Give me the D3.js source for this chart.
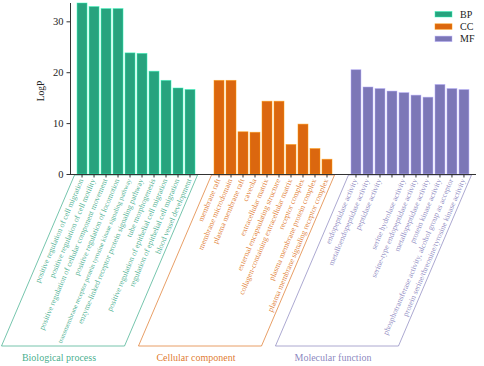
<!DOCTYPE html>
<html>
<head>
<meta charset="utf-8">
<script src="https://cdn.jsdelivr.net/npm/d3@7"></script>
<style>
  html, body { margin: 0; padding: 0; background: #fff; }
  svg { display: block; }
  svg text { font-family: "Liberation Serif", "Times New Roman", serif; }
</style>
</head>
<body>
<svg id="chart" width="484" height="366"></svg>
<script>
// ---- data ----
const groups = ["BP", "CC", "MF"];
const groupTitles = ["Biological process", "Cellular component", "Molecular function"];
const groupColors = ["#1b9e77", "#d95f02", "#7570b3"];

const bpTerms = [
  "positive regulation of cell migration",
  "positive regulation of cell motility",
  "positive regulation of cellular component movement",
  "positive regulation of locomotion",
  "transmembrane receptor protein tyrosine kinase signaling pathway",
  "enzyme-linked receptor protein signaling pathway",
  "tube morphogenesis",
  "positive regulation of epithelial cell migration",
  "regulation of epithelial cell migration",
  "blood vessel development"
];
const bpValues = [33.6, 32.9, 32.5, 32.5, 23.8, 23.7, 20.2, 18.4, 16.9, 16.6];

const ccTerms = [
  "membrane raft",
  "membrane microdomain",
  "plasma membrane raft",
  "caveola",
  "extracellular matrix",
  "external encapsulating structure",
  "collagen-containing extracellular matrix",
  "receptor complex",
  "plasma membrane protein complex",
  "plasma membrane signaling receptor complex"
];
const ccValues = [18.4, 18.4, 8.3, 8.2, 14.3, 14.3, 5.8, 9.8, 5.0, 2.9];

const mfTerms = [
  "endopeptidase activity",
  "metalloendopeptidase activity",
  "peptidase activity",
  "",
  "serine hydrolase activity",
  "serine-type endopeptidase activity",
  "metallopeptidase activity",
  "protein kinase activity",
  "phosphotransferase activity, alcohol group as acceptor",
  "protein serine/threonine/tyrosine kinase activity"
];
const mfValues = [20.5, 17.1, 16.8, 16.3, 16.0, 15.5, 15.1, 17.6, 16.8, 16.6];

const yTicks = [0, 10, 20, 30];
const yMax = 33.6;

// ---- build ----
const FONT = "'Liberation Serif', 'Times New Roman', serif";
const termsByGroup = [bpTerms, ccTerms, mfTerms];
const valuesByGroup = [bpValues, ccValues, mfValues];

const svg = d3.select("#chart");
const axisX0 = 70, axisX1 = 476, axisY0 = 174, axisTop = 3;
const boxBottom = 346;
const slantDx = (boxBottom - axisY0) / Math.tan(67 * Math.PI / 180);

const y = d3.scaleLinear().domain([0, yMax]).range([axisY0, axisTop]);
const xGroup = d3.scaleBand().domain(groups).range([axisX0, axisX1])
  .paddingInner(0.102).paddingOuter(0.033);
const xInner = d3.scaleBand().domain(d3.range(10)).range([0, xGroup.bandwidth()])
  .paddingInner(0.167).paddingOuter(0.21);

// parallelograms (behind axis)
groups.forEach((g, gi) => {
  const x0 = xGroup(g), x1 = x0 + xGroup.bandwidth();
  const col = groupColors[gi];
  svg.append("path")
    .attr("d", `M${x0},${axisY0 + 1}L${x1},${axisY0 + 1}L${x1 - slantDx},${boxBottom}L${x0 - slantDx},${boxBottom}Z`)
    .attr("fill", "none")
    .attr("stroke", col)
    .attr("stroke-opacity", 0.6)
    .attr("stroke-width", 1);
  svg.append("text")
    .attr("x", (x0 + x1) / 2 - slantDx - 4)
    .attr("y", 361)
    .attr("text-anchor", "middle")
    .style("font-family", FONT)
    .style("font-size", "10px")
    .attr("fill", col)
    .attr("fill-opacity", 0.85)
    .text(groupTitles[gi]);
});

// bars
groups.forEach((g, gi) => {
  const col = groupColors[gi];
  const gx = xGroup(g);
  svg.append("g").selectAll("rect")
    .data(valuesByGroup[gi])
    .join("rect")
    .attr("x", (d, i) => gx + xInner(i))
    .attr("y", d => y(d))
    .attr("width", xInner.bandwidth())
    .attr("height", d => axisY0 - y(d))
    .attr("fill", col)
    .attr("fill-opacity", 0.95)
    .attr("stroke", d3.color(col).brighter(1.3))
    .attr("stroke-opacity", 0.6)
    .attr("stroke-width", 0.8);
});

// x axis line and ticks
svg.append("line")
  .attr("x1", axisX0).attr("x2", axisX1)
  .attr("y1", axisY0 + 0.5).attr("y2", axisY0 + 0.5)
  .attr("stroke", "#333").attr("stroke-width", 1);
groups.forEach((g, gi) => {
  const gx = xGroup(g);
  svg.append("g").selectAll("line")
    .data(d3.range(10))
    .join("line")
    .attr("x1", i => gx + xInner(i) + xInner.bandwidth() / 2)
    .attr("x2", i => gx + xInner(i) + xInner.bandwidth() / 2)
    .attr("y1", axisY0 + 0.5).attr("y2", axisY0 + 3.5)
    .attr("stroke", "#333").attr("stroke-width", 1);
});

// category labels
const maxLen = (boxBottom - 3 - 179) / Math.sin(67 * Math.PI / 180);
groups.forEach((g, gi) => {
  const col = groupColors[gi];
  const gx = xGroup(g);
  svg.append("g").selectAll("text")
    .data(termsByGroup[gi])
    .join("text")
    .attr("transform", (d, i) => {
      const cx = gx + xInner(i) + xInner.bandwidth() / 2;
      return `translate(${cx - 1},179) rotate(-67)`;
    })
    .attr("text-anchor", "end")
    .attr("dy", "0.35em")
    .style("font-family", FONT)
    .style("font-size", "7.8px")
    .attr("fill", col)
    .attr("fill-opacity", 0.8)
    .text(d => d)
    .each(function () {
      const len = this.getComputedTextLength();
      if (len > maxLen) {
        d3.select(this).style("font-size", (7.8 * maxLen / len) + "px");
      }
    });
});

// y axis
const yAxis = d3.axisLeft(y).tickValues(yTicks).tickSize(4).tickPadding(3).tickFormat(d3.format("d"));
const yg = svg.append("g").attr("transform", `translate(${axisX0 + 0.5},0)`).call(yAxis);
yg.attr("font-family", null).attr("font-size", null);
yg.select(".domain").attr("stroke", "#333").attr("d", `M0,${axisTop}V${axisY0}`);
yg.selectAll(".tick line").attr("stroke", "#333");
yg.selectAll(".tick text")
  .style("font-family", FONT).style("font-size", "10.5px").attr("fill", "#222");

svg.append("text")
  .attr("transform", `translate(44,91) rotate(-90)`)
  .attr("text-anchor", "middle")
  .style("font-family", FONT)
  .style("font-size", "9.5px")
  .attr("fill", "#222")
  .text("LogP");

// legend
const legend = svg.append("g");
groups.forEach((g, gi) => {
  const ly = 11.5 + gi * 12.3;
  legend.append("rect")
    .attr("x", 435).attr("y", ly)
    .attr("width", 17).attr("height", 5.5)
    .attr("fill", groupColors[gi])
    .attr("fill-opacity", 0.95)
    .attr("stroke", d3.color(groupColors[gi]).brighter(1.3))
    .attr("stroke-opacity", 0.6)
    .attr("stroke-width", 0.8);
  legend.append("text")
    .attr("x", 460).attr("y", ly + 6)
    .style("font-family", FONT)
    .style("font-size", "10px")
    .attr("fill", "#222")
    .text(g);
});
</script>
</body>
</html>
